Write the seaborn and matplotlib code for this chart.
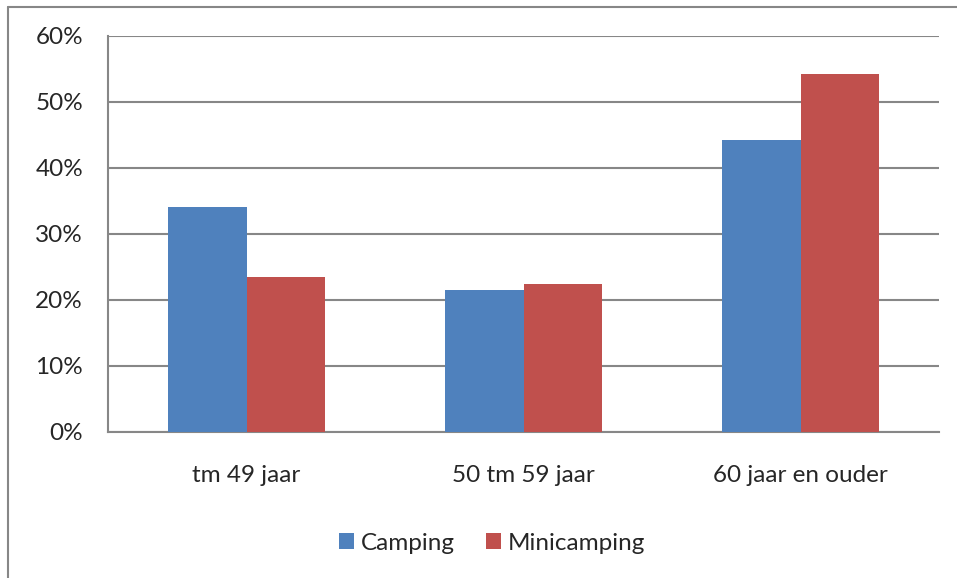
import matplotlib

matplotlib.use("Agg")

import matplotlib.pyplot as plt
import pandas as pd
import seaborn as sns
from matplotlib.lines import Line2D
from matplotlib.ticker import FuncFormatter, MultipleLocator

categories = ["tm 49 jaar", "50 tm 59 jaar", "60 jaar en ouder"]
series_names = ["Camping", "Minicamping"]
camping = [34.1, 21.5, 44.3]
minicamping = [23.5, 22.4, 54.2]
colors = ["#4F81BD", "#C0504D"]
grid_color = "#878787"
fs = 17.5

df = pd.DataFrame({
    "leeftijd": categories * 2,
    "serie": [series_names[0]] * 3 + [series_names[1]] * 3,
    "aandeel": camping + minicamping,
})

sns.set_style("white")
plt.rcParams["font.family"] = ["Lato", "DejaVu Sans"]
plt.rcParams["font.size"] = fs

fig = plt.figure(figsize=(9.57, 5.78), dpi=100)
ax = fig.add_axes([108 / 957, 146 / 578, 831 / 957, 396 / 578])

sns.barplot(
    data=df, x="leeftijd", y="aandeel", hue="serie", order=categories,
    hue_order=series_names, palette=colors, width=0.57, saturation=1,
    edgecolor="none", linewidth=0, ax=ax, zorder=3,
)

ax.set_xlim(-0.5, 2.5)
ax.set_ylim(0, 60)
ax.yaxis.set_major_locator(MultipleLocator(10))
ax.yaxis.set_major_formatter(FuncFormatter(lambda v, _: f"{v:.0f}%"))
ax.grid(axis="y", color=grid_color, linewidth=1.5, zorder=0)
ax.set_axisbelow(True)
ax.set_xlabel("")
ax.set_ylabel("")

for side in ["top", "right"]:
    ax.spines[side].set_visible(False)
for side in ["left", "bottom"]:
    ax.spines[side].set_color(grid_color)
    ax.spines[side].set_linewidth(1.5)

ax.tick_params(axis="y", length=6, width=1.2, color=grid_color, pad=12, labelsize=fs)
ax.tick_params(axis="x", which="major", length=0, pad=24, labelsize=fs)
ax.set_xticks([-0.5, 0.5, 1.5, 2.5], minor=True)
ax.tick_params(axis="x", which="minor", length=6, width=1.2, color=grid_color, direction="out")

ax.legend(
    loc="center", bbox_to_anchor=(492 / 957, 35 / 578), bbox_transform=fig.transFigure,
    ncol=2, frameon=False, fontsize=fs, handlelength=0.62, handleheight=0.62,
    handletextpad=0.3, columnspacing=1.25,
)

# outer chart frame (only left and top edges visible)
fig.add_artist(Line2D([8 / 957, 8 / 957], [0, 1 - 7 / 578], color=grid_color, linewidth=1.5))
fig.add_artist(Line2D([8 / 957, 1], [1 - 7 / 578, 1 - 7 / 578], color=grid_color, linewidth=1.5))

fig.savefig("out.png", dpi=100)
